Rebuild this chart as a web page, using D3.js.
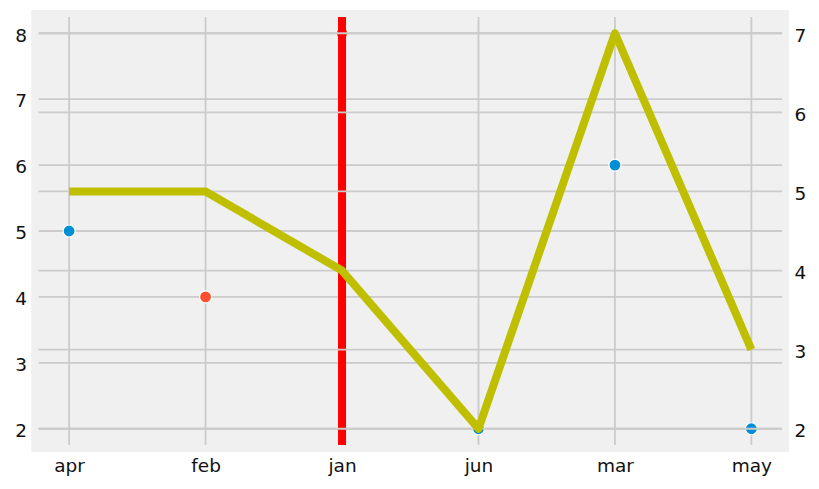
<!DOCTYPE html>
<html>
<head>
<meta charset="utf-8">
<script src="https://cdn.jsdelivr.net/npm/d3@7"></script>
<style>
  body { margin: 0; background: #ffffff; }
  svg text { font-family: "DejaVu Sans", sans-serif; }
</style>
</head>
<body>
<div id="chart"></div>
<script>
    // data
    var months = ["apr", "feb", "jan", "jun", "mar", "may"];
    var pointValues = [5, 4, 8, 2, 6, 2];           // left axis, scatter
    var pointColors = ["#008fd5", "#fc4f30", "#fc4f30", "#008fd5", "#008fd5", "#008fd5"];
    var lineValues = [5, 5, 4, 2, 7, 3];            // right axis, yellow line
    var leftTicks = [2, 3, 4, 5, 6, 7, 8];
    var rightTicks = [2, 3, 4, 5, 6, 7];
    var markedMonth = "jan";

    var width = 819, height = 489;
    var x0 = 35, x1 = 785.5, y0 = 13.5, y1 = 448.5;
    var spine = 3.4;
    var bg = "#f0f0f0", gridColor = "#cbcbcb";

    var svg = d3.select("#chart").append("svg")
        .attr("width", width)
        .attr("height", height);

    var x = d3.scalePoint().domain(months).range([x0, x1]).padding(0.25);
    var yLeft = d3.scaleLinear().domain([1.7, 8.3]).range([y1, y0]);
    var yRight = d3.scaleLinear().domain([1.75, 7.25]).range([y1, y0]);

    // axes background (spines are the same grey, so it spills a little)
    svg.append("rect")
        .attr("x", x0 - spine).attr("y", y0 - spine)
        .attr("width", x1 - x0 + 2 * spine).attr("height", y1 - y0 + 2 * spine)
        .attr("fill", bg);

    function drawHGrid(g, yScale, ticks) {
        g.append("g").selectAll("line.hgrid")
            .data(ticks)
            .enter().append("line")
            .attr("class", "hgrid")
            .attr("x1", x0).attr("x2", x1)
            .attr("y1", function (d) { return yScale(d); })
            .attr("y2", function (d) { return yScale(d); })
            .attr("stroke", gridColor)
            .attr("stroke-width", 1.8);
    }

    function drawSpines(g) {
        g.append("rect")
            .attr("x", x0).attr("y", y0)
            .attr("width", x1 - x0).attr("height", y1 - y0)
            .attr("fill", "none")
            .attr("stroke", bg)
            .attr("stroke-width", 2 * spine);
    }

    /*
     * first axes: grid, scatter points, red marker line
     */
    var ax = svg.append("g").attr("class", "ax-left");
    drawHGrid(ax, yLeft, leftTicks);
    ax.append("g").selectAll("line.vgrid")
        .data(months)
        .enter().append("line")
        .attr("class", "vgrid")
        .attr("x1", function (d) { return x(d); })
        .attr("x2", function (d) { return x(d); })
        .attr("y1", y0).attr("y2", y1)
        .attr("stroke", gridColor)
        .attr("stroke-width", 1.8);

    ax.append("g").selectAll("circle")
        .data(pointValues)
        .enter().append("circle")
        .attr("cx", function (d, i) { return x(months[i]); })
        .attr("cy", function (d) { return yLeft(d); })
        .attr("r", 6)
        .attr("fill", function (d, i) { return pointColors[i]; })
        .attr("stroke", "#ffffff")
        .attr("stroke-width", 1.2);

    ax.append("line")
        .attr("x1", x(markedMonth)).attr("x2", x(markedMonth))
        .attr("y1", y0).attr("y2", y1)
        .attr("stroke", "#ff0000")
        .attr("stroke-width", 8);

    drawSpines(ax);

    /*
     * twin axes: only horizontal grid, lying over the first axes, then the yellow line
     */
    var tw = svg.append("g").attr("class", "ax-right");
    drawHGrid(tw, yRight, rightTicks);

    var line = d3.line()
        .x(function (d, i) { return x(months[i]); })
        .y(function (d) { return yRight(d); });

    tw.append("path")
        .datum(lineValues)
        .attr("d", line)
        .attr("fill", "none")
        .attr("stroke", "#bfbf00")
        .attr("stroke-width", 8)
        .attr("stroke-linejoin", "round")
        .attr("stroke-linecap", "butt");

    drawSpines(tw);

    // tick labels
    var leftAxis = svg.append("g")
        .attr("transform", "translate(" + x0 + ",0)")
        .call(d3.axisLeft(yLeft).tickValues(leftTicks).tickFormat(d3.format("d")).tickSize(0).tickPadding(8));
    var rightAxis = svg.append("g")
        .attr("transform", "translate(" + x1 + ",0)")
        .call(d3.axisRight(yRight).tickValues(rightTicks).tickFormat(d3.format("d")).tickSize(0).tickPadding(9));
    var bottomAxis = svg.append("g")
        .attr("transform", "translate(0," + y1 + ")")
        .call(d3.axisBottom(x).tickSize(0).tickPadding(10));

    [leftAxis, rightAxis, bottomAxis].forEach(function (a) {
        a.select(".domain").remove();
        a.selectAll("text")
            .attr("font-size", 18.5)
            .attr("font-family", "DejaVu Sans, sans-serif")
            .attr("fill", "#111111");
    });
    leftAxis.selectAll("text").attr("dy", "0.42em");
    rightAxis.selectAll("text").attr("dy", "0.42em");
</script>
</body>
</html>
